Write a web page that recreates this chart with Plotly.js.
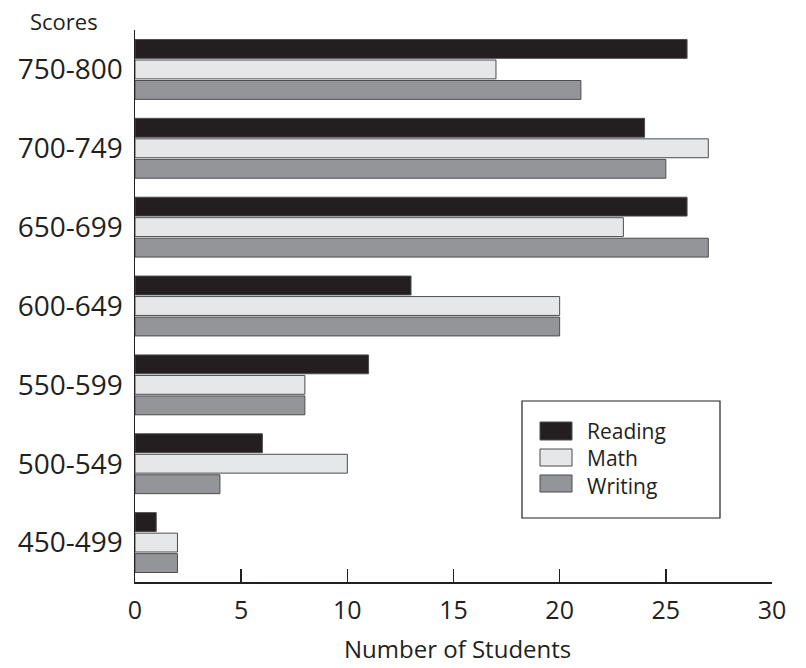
<!DOCTYPE html>
<html>
<head>
<meta charset="utf-8">
<script src="https://cdn.plot.ly/plotly-3.0.1.min.js"></script>
<style>html,body{margin:0;padding:0;background:#fff;}#chart{width:806px;height:668px;}</style>
</head>
<body>
<div id="chart"></div>
<script>
const categories = ["450-499", "500-549", "550-599", "600-649", "650-699", "700-749", "750-800"];
const reading = [1, 6, 11, 13, 26, 24, 26];
const math = [2, 10, 8, 20, 23, 27, 17];
const writing = [2, 4, 8, 20, 27, 25, 21];
const xTicks = [0, 5, 10, 15, 20, 25, 30];
const seriesNames = ["Reading", "Math", "Writing"];

const FONT = "'Open Sans', 'DejaVu Sans', sans-serif";
const INK = "#231f20";
const colors = {Reading: "#231f20", Math: "#e6e7e8", Writing: "#939598"};

function bar(name, vals) {
  return {
    type: "bar", orientation: "h", name: name,
    x: vals, y: categories,
    marker: {color: colors[name], line: {color: "#4d4d4f", width: 1}},
    showlegend: false,
    hoverinfo: "x+name"
  };
}
// Plotly places horizontal group members bottom-to-top by trace order
const data = [bar("Writing", writing), bar("Math", math), bar("Reading", reading)];

// custom legend (paper coords)
const px = v => (v - 135) / 637;
const py = v => (582 - v) / 552;
const swatchRows = [[422, 440], [449, 466], [475, 492]];
const shapes = [{
  type: "rect", xref: "paper", yref: "paper",
  x0: px(522), x1: px(720), y0: py(518), y1: py(401),
  line: {color: INK, width: 1.2}, fillcolor: "#fff", layer: "above"
}];
seriesNames.forEach((n, i) => {
  const [t, b] = swatchRows[i];
  shapes.push({type: "rect", xref: "paper", yref: "paper",
    x0: px(540), x1: px(572), y0: py(b), y1: py(t),
    line: {color: "#4d4d4f", width: 1}, fillcolor: colors[n], layer: "above"});
});
const annotations = [
  {xref: "paper", yref: "paper", x: px(585), y: py(458), xanchor: "left", yanchor: "middle", align: "left",
   text: seriesNames.join("<br>"), showarrow: false, font: {family: FONT, size: 21, color: INK}},
  {xref: "paper", yref: "paper", x: px(64), y: py(21), xanchor: "center", yanchor: "middle",
   text: "Scores", showarrow: false, font: {family: FONT, size: 22, color: INK}},
  {xref: "paper", yref: "paper", x: px(457), y: py(648), xanchor: "center", yanchor: "middle",
   text: "Number of Students", showarrow: false, font: {family: FONT, size: 24, color: INK}}
];

const layout = {
  width: 806, height: 668,
  margin: {l: 135, r: 34, t: 30, b: 86},
  paper_bgcolor: "#fff", plot_bgcolor: "#fff",
  barmode: "group", bargap: 0.22, bargroupgap: 0.08,
  font: {family: FONT, color: INK},
  xaxis: {
    range: [0, 30], tickvals: xTicks, ticktext: xTicks.map(String),
    showgrid: false, zeroline: false, showline: true, linecolor: INK, linewidth: 1.5,
    ticks: "inside", ticklen: 13, tickwidth: 1.5, tickcolor: INK,
    tickfont: {family: FONT, size: 25, color: INK}, ticklabelstandoff: 5, fixedrange: true
  },
  yaxis: {
    type: "category", range: [-0.5, 6.5],
    showgrid: false, zeroline: false, showline: true, linecolor: INK, linewidth: 1.5,
    ticks: "", tickfont: {family: FONT, size: 28, color: INK}, ticklabelstandoff: 5, fixedrange: true
  },
  shapes: shapes,
  annotations: annotations
};
Plotly.newPlot("chart", data, layout, {displayModeBar: false, staticPlot: true});
</script>
</body>
</html>
